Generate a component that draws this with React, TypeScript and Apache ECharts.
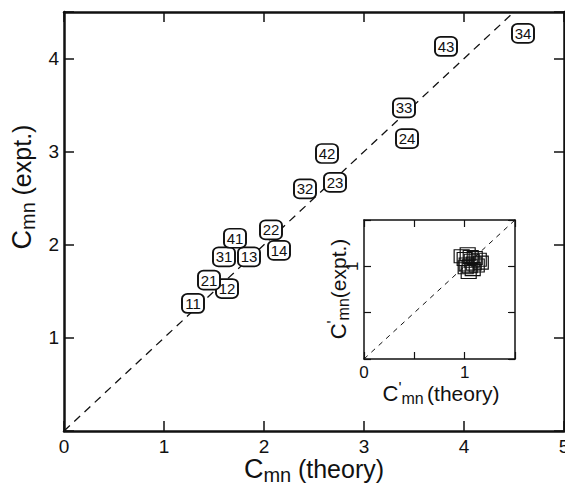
import React, { useEffect, useRef } from "react";
import * as echarts from "echarts";

// Main panel data: mode labels, theory vs experiment
const pairLabels = ["11", "12", "13", "14", "21", "22", "23", "24", "31", "32", "33", "34", "41", "42", "43"];
const theoryValues = [1.29, 1.63, 1.85, 2.15, 1.45, 2.07, 2.71, 3.43, 1.6, 2.41, 3.4, 4.59, 1.71, 2.63, 3.82];
const exptValues = [1.37, 1.53, 1.87, 1.94, 1.62, 2.16, 2.67, 3.14, 1.87, 2.6, 3.47, 4.27, 2.07, 2.98, 4.13];

// Inset data (normalized C'mn)
const insetTheory = [0.97, 1.0, 1.03, 1.06, 1.1, 1.14, 1.16, 1.02, 1.05, 1.09, 1.04, 1.08, 1.12, 1.01, 1.07];
const insetExpt = [1.11, 1.08, 1.13, 1.1, 1.09, 1.07, 1.04, 1.02, 1.0, 1.03, 0.94, 0.97, 1.01, 0.99, 1.06];

// Diagonal reference lines (y = x)
const mainDiagonal = [0, 4.5];
const insetDiagonal = [0, 1.5];

const FONT = "Liberation Sans";

export default function App() {
  const ref = useRef<HTMLDivElement>(null);
  useEffect(() => {
    if (!ref.current) return;
    const chart = echarts.init(ref.current, undefined, { renderer: "svg" });
    const black = "#111";
    const mainTick = { show: true, inside: true, length: 10, lineStyle: { color: black, width: 1.5 } };
    const insetTick = { show: true, inside: true, length: 7, lineStyle: { color: black, width: 1.2 } };
    const mainLine = { show: true, onZero: false, lineStyle: { color: black, width: 2.5 } };
    const insetLine = { show: true, onZero: false, lineStyle: { color: black, width: 1.5 } };
    const titleRich = (big: number, small: number, name: number) => ({
      c: { fontSize: big, fontFamily: FONT, lineHeight: big + 4, verticalAlign: "middle", fill: black },
      p: { fontSize: small, fontFamily: FONT, verticalAlign: "top", fill: black },
      s: { fontSize: small, fontFamily: FONT, verticalAlign: "bottom", fill: black },
      n: { fontSize: name, fontFamily: FONT, verticalAlign: "middle", fill: black },
    });
    const option: any = {
      animation: false,
      backgroundColor: "#fff",
      grid: [
        { left: 64, top: 12, width: 500, height: 419, show: false, outerBoundsMode: "none", containLabel: false },
        {
          left: 364, top: 220, width: 151, height: 139, show: true, backgroundColor: "#fff",
          borderWidth: 0, z: 5, outerBoundsMode: "none", containLabel: false,
        },
      ],
      xAxis: [
        {
          type: "value", gridIndex: 0, min: 0, max: 5, interval: 1, position: "bottom",
          axisLine: mainLine, axisTick: mainTick, splitLine: { show: false },
          axisLabel: { show: true, margin: 6, color: black, fontSize: 19, fontFamily: FONT, showMaxLabel: true },
        },
        {
          type: "value", gridIndex: 0, min: 0, max: 5, interval: 1, position: "top",
          axisLine: mainLine, axisTick: mainTick, splitLine: { show: false }, axisLabel: { show: false },
        },
        {
          type: "value", gridIndex: 1, min: 0, max: 1.5, interval: 0.5, position: "bottom", z: 6,
          axisLine: insetLine, axisTick: insetTick, splitLine: { show: false },
          axisLabel: {
            show: true, margin: 5, color: black, fontSize: 17, fontFamily: FONT,
            formatter: (v: number) => (v === 0 || v === 1 ? String(v) : ""),
          },
        },
        {
          type: "value", gridIndex: 1, min: 0, max: 1.5, interval: 0.5, position: "top", z: 6,
          axisLine: insetLine, axisTick: insetTick, splitLine: { show: false }, axisLabel: { show: false },
        },
      ],
      yAxis: [
        {
          type: "value", gridIndex: 0, min: 0, max: 4.5, interval: 1, position: "left",
          axisLine: mainLine, axisTick: mainTick, splitLine: { show: false },
          axisLabel: {
            show: true, margin: 5, color: black, fontSize: 19, fontFamily: FONT,
            formatter: (v: number) => (v === 0 || v % 1 !== 0 ? "" : String(v)),
          },
        },
        {
          type: "value", gridIndex: 0, min: 0, max: 4.5, interval: 1, position: "right",
          axisLine: mainLine, axisTick: mainTick, splitLine: { show: false }, axisLabel: { show: false },
        },
        {
          type: "value", gridIndex: 1, min: 0, max: 1.5, interval: 0.5, position: "left", z: 6,
          axisLine: insetLine, axisTick: insetTick, splitLine: { show: false },
          axisLabel: {
            show: true, margin: 3, rotate: 90, color: black, fontSize: 17, fontFamily: FONT,
            formatter: (v: number) => (v === 1 ? "1" : ""),
          },
        },
        {
          type: "value", gridIndex: 1, min: 0, max: 1.5, interval: 0.5, position: "right", z: 6,
          axisLine: insetLine, axisTick: insetTick, splitLine: { show: false }, axisLabel: { show: false },
        },
      ],
      series: [
        {
          type: "line", xAxisIndex: 0, yAxisIndex: 0, z: 1, symbol: "none",
          data: mainDiagonal.map((v) => [v, v]),
          lineStyle: { color: black, width: 1.3, type: [8, 6] },
        },
        {
          type: "scatter", xAxisIndex: 0, yAxisIndex: 0, z: 3,
          symbol: "roundRect", symbolSize: [22, 19],
          data: pairLabels.map((n, i) => ({ name: n, value: [theoryValues[i], exptValues[i]] })),
          itemStyle: { color: "#fff", borderColor: black, borderWidth: 1.8, opacity: 1 },
          label: {
            show: true, position: "inside", formatter: (p: any) => p.name,
            color: black, fontSize: 15, fontFamily: FONT,
          },
        },
        {
          type: "line", xAxisIndex: 2, yAxisIndex: 2, z: 7, symbol: "none",
          data: insetDiagonal.map((v) => [v, v]),
          lineStyle: { color: black, width: 1, type: [5, 5] },
        },
        {
          type: "scatter", xAxisIndex: 2, yAxisIndex: 2, z: 8,
          symbol: "rect", symbolSize: [15, 13],
          data: insetTheory.map((x, i) => [x, insetExpt[i]]),
          itemStyle: { color: "rgba(255,255,255,0)", borderColor: black, borderWidth: 1.1, opacity: 1 },
        },
      ],
      graphic: [
        {
          type: "text", x: 314, y: 469, z: 10,
          style: {
            text: "{c|C}{s|mn}  {n|(theory)}", rich: titleRich(27, 20, 25),
            align: "center", verticalAlign: "middle",
          },
        },
        {
          type: "text", x: 22, y: 187, rotation: Math.PI / 2, z: 10,
          style: {
            text: "{c|C}{s|mn}  {n|(expt.)}", rich: titleRich(27, 20, 25),
            align: "center", verticalAlign: "middle",
          },
        },
        {
          type: "text", x: 441, y: 393, z: 10,
          style: {
            text: "{c|C}{p|'}{s|mn} {n|(theory)}", rich: titleRich(22, 16, 21),
            align: "center", verticalAlign: "middle",
          },
        },
        {
          type: "text", x: 338, y: 289, rotation: Math.PI / 2, z: 10,
          style: {
            text: "{c|C}{p|'}{s|mn}{n|(expt.)}", rich: titleRich(22, 16, 21),
            align: "center", verticalAlign: "middle",
          },
        },
      ],
    };
    chart.setOption(option);
    return () => chart.dispose();
  }, []);
  return (
    <div
      ref={ref}
      style={{ position: "fixed", left: 0, top: 0, width: 565, height: 487, background: "#fff" }}
    />
  );
}
